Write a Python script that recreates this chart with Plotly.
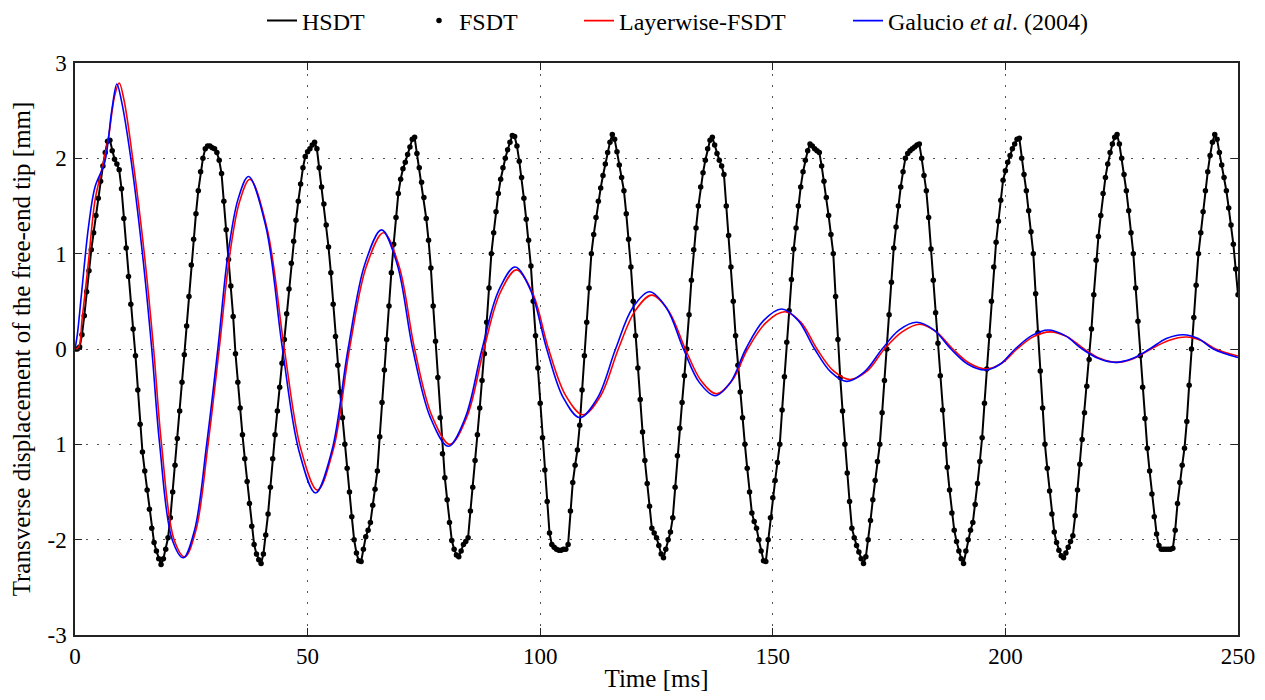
import plotly.graph_objects as go

# ---------------- data ----------------
time_step_ms = 0.5
# HSDT / FSDT transverse displacement [mm], sampled every 0.5 ms from 0 to 250 ms
hsdt_disp = [
    0.00, 0.00, 0.02, 0.15, 0.35, 0.60, 0.82, 1.04, 1.22, 1.40,
    1.58, 1.76, 1.92, 2.06, 2.18, 2.19, 2.08, 1.99, 1.94, 1.88,
    1.68, 1.37, 1.06, 0.76, 0.47, 0.21, -0.07, -0.43, -0.79, -1.08,
    -1.28, -1.48, -1.68, -1.88, -2.03, -2.12, -2.20, -2.26, -2.20, -2.10,
    -1.98, -1.77, -1.50, -1.22, -0.94, -0.65, -0.35, -0.06, 0.24, 0.55,
    0.88, 1.15, 1.42, 1.66, 1.86, 2.00, 2.10, 2.13, 2.13, 2.11,
    2.10, 2.06, 1.98, 1.84, 1.55, 1.25, 0.94, 0.66, 0.34, -0.05,
    -0.35, -0.62, -0.90, -1.15, -1.39, -1.62, -1.86, -2.05, -2.15, -2.21,
    -2.25, -2.15, -1.95, -1.73, -1.45, -1.15, -0.90, -0.65, -0.40, -0.15,
    0.10, 0.37, 0.63, 0.90, 1.13, 1.35, 1.55, 1.73, 1.90, 2.02,
    2.07, 2.10, 2.14, 2.17, 2.10, 1.90, 1.70, 1.52, 1.30, 1.07,
    0.80, 0.47, 0.13, -0.17, -0.45, -0.72, -1.00, -1.25, -1.50, -1.76,
    -2.00, -2.14, -2.22, -2.23, -2.10, -1.97, -1.90, -1.82, -1.64, -1.47,
    -1.28, -0.92, -0.56, -0.22, 0.10, 0.45, 0.80, 1.10, 1.38, 1.63,
    1.78, 1.89, 1.96, 2.04, 2.12, 2.20, 2.22, 2.05, 1.90, 1.75,
    1.59, 1.37, 1.14, 0.85, 0.45, 0.08, -0.30, -0.72, -1.10, -1.35,
    -1.58, -1.82, -2.01, -2.10, -2.16, -2.18, -2.12, -2.05, -2.02, -1.98,
    -1.70, -1.45, -1.17, -0.90, -0.62, -0.33, -0.05, 0.28, 0.64, 1.00,
    1.22, 1.44, 1.63, 1.78, 1.90, 2.00, 2.09, 2.17, 2.24, 2.23,
    2.13, 1.97, 1.80, 1.58, 1.36, 1.14, 0.87, 0.50, 0.14, -0.20,
    -0.57, -0.93, -1.27, -1.60, -1.93, -2.05, -2.08, -2.10, -2.11, -2.11,
    -2.10, -2.10, -2.05, -1.70, -1.40, -1.22, -1.06, -0.80, -0.43, -0.07,
    0.28, 0.64, 1.00, 1.20, 1.38, 1.55, 1.69, 1.82, 1.94, 2.06,
    2.17, 2.25, 2.20, 2.07, 1.93, 1.80, 1.66, 1.42, 1.15, 0.86,
    0.50, 0.14, -0.20, -0.53, -0.87, -1.17, -1.41, -1.65, -1.88, -1.93,
    -1.98, -2.06, -2.15, -2.19, -2.10, -2.00, -1.92, -1.77, -1.45, -1.12,
    -0.83, -0.56, -0.28, 0.00, 0.36, 0.72, 1.04, 1.27, 1.50, 1.70,
    1.85, 1.98, 2.10, 2.19, 2.22, 2.14, 2.05, 1.98, 1.92, 1.83,
    1.50, 1.19, 0.86, 0.50, 0.14, -0.17, -0.45, -0.72, -1.00, -1.25,
    -1.50, -1.72, -1.81, -1.88, -2.00, -2.12, -2.22, -2.23, -2.00, -1.77,
    -1.56, -1.38, -1.19, -1.00, -0.64, -0.29, 0.07, 0.40, 0.73, 1.05,
    1.27, 1.50, 1.70, 1.86, 1.98, 2.08, 2.15, 2.13, 2.10, 2.08,
    2.06, 1.92, 1.76, 1.59, 1.40, 1.20, 1.00, 0.55, 0.10, -0.30,
    -0.65, -1.00, -1.30, -1.60, -1.88, -1.98, -2.06, -2.13, -2.20, -2.25,
    -2.18, -2.00, -1.80, -1.58, -1.38, -1.18, -1.00, -0.67, -0.33, 0.00,
    0.36, 0.70, 1.06, 1.28, 1.50, 1.70, 1.86, 2.00, 2.05, 2.08,
    2.10, 2.12, 2.14, 2.15, 2.00, 1.82, 1.66, 1.38, 1.05, 0.72,
    0.38, 0.06, -0.28, -0.64, -1.00, -1.24, -1.48, -1.72, -1.90, -2.02,
    -2.12, -2.20, -2.25, -2.12, -2.00, -1.90, -1.82, -1.63, -1.41, -1.18,
    -0.93, -0.57, -0.21, 0.14, 0.50, 0.86, 1.12, 1.34, 1.56, 1.77,
    1.87, 1.96, 2.03, 2.10, 2.15, 2.20, 2.21, 2.00, 1.83, 1.66,
    1.45, 1.23, 1.00, 0.58, 0.17, -0.23, -0.62, -1.00, -1.25, -1.49,
    -1.73, -1.92, -2.03, -2.11, -2.17, -2.19, -2.14, -2.08, -2.02, -1.96,
    -1.75, -1.48, -1.21, -0.95, -0.67, -0.39, -0.11, 0.21, 0.57, 0.93,
    1.18, 1.40, 1.63, 1.80, 1.94, 2.06, 2.15, 2.22, 2.25, 2.15,
    2.00, 1.83, 1.66, 1.45, 1.22, 1.00, 0.64, 0.29, -0.07, -0.40,
    -0.73, -1.04, -1.28, -1.52, -1.76, -1.94, -2.06, -2.10, -2.10, -2.10,
    -2.10, -2.10, -2.09, -1.90, -1.62, -1.40, -1.22, -1.04, -0.76, -0.38,
    0.00, 0.33, 0.67, 1.00, 1.22, 1.44, 1.66, 1.86, 2.03, 2.17,
    2.25, 2.20, 2.06, 1.93, 1.80, 1.66, 1.48, 1.30, 1.10, 0.84,
    0.57,
]
hsdt_time = [i * time_step_ms for i in range(len(hsdt_disp))]
# FSDT coincides with HSDT in the reference
fsdt_time = hsdt_time
fsdt_disp = hsdt_disp

# Layerwise-FSDT (red) readings
lw_time = [0, 0.8, 1.5, 2.9, 4.3, 5.7, 7.2, 8.5, 9.5, 10.5, 12.4, 14.9, 16.9, 18.6,
           21.3, 23.6, 26.0, 28.6, 31.0, 33.3, 35.4, 37.6,
           41.3, 45.0, 48.55, 52.1, 55.55, 59.0, 62.65, 66.3, 69.65, 73.0, 76.8, 80.6,
           84.25, 87.9, 91.4, 94.9, 98.35, 101.8, 105.5, 109.2, 113.0, 116.8, 120.4,
           124.0, 127.6, 131.2, 134.55, 137.9, 141.25, 144.6, 148.6, 152.6, 156.05,
           159.5, 163.05, 166.6, 170.3, 174.0, 177.8, 181.6, 185.15, 188.7, 192.3,
           195.9, 199.2, 202.5, 206.05, 209.6, 213.25, 216.9, 220.4, 223.9, 227.6,
           231.3, 235.1, 238.9, 242.05, 245.2, 250.0]
lw_disp = [0, 0.02, 0.30, 0.92, 1.56, 1.87, 2.22, 2.65, 2.79, 2.62, 2.00, 1.00, 0.00, -1.00,
           -2.00, -2.18, -1.90, -1.00, 0.00, 1.00, 1.55, 1.78,
           1.26, 0.00, -1.05, -1.48, -1.05, 0.00, 0.87, 1.22, 0.87, 0.00, -0.71, -1.00,
           -0.71, 0.00, 0.59, 0.83, 0.59, 0.00, -0.49, -0.69, -0.49, 0.00, 0.40,
           0.565, 0.40, 0.00, -0.33, -0.47, -0.33, 0.00, 0.28, 0.39, 0.28,
           0.00, -0.23, -0.32, -0.23, 0.00, 0.18, 0.26, 0.18, 0.00, -0.15,
           -0.21, -0.15, 0.00, 0.13, 0.18, 0.13, 0.00, -0.10, -0.14, -0.10,
           0.00, 0.09, 0.126, 0.09, 0.00, -0.074]

# Galucio et al. (2004) (blue) readings
gal_time = [0, 0.5, 1.4, 2.9, 4.3, 6.4, 7.9, 9.0, 10.0, 12.0, 14.5, 16.5, 18.2,
            20.9, 23.3, 25.7, 28.3, 30.7, 32.9, 35.1, 37.3,
            41.0, 44.6, 48.15, 51.7, 55.2, 58.7, 62.3, 65.9, 69.25, 72.6, 76.4, 80.25,
            83.9, 87.5, 91.05, 94.6, 98.0, 101.4, 104.95, 108.5, 112.35, 116.2, 119.85,
            123.5, 127.15, 130.8, 134.2, 137.6, 140.9, 144.2, 148.05, 151.9, 155.45,
            159.0, 162.45, 165.9, 169.7, 173.5, 177.2, 180.9, 184.6, 188.3, 191.95,
            195.6, 198.85, 202.1, 205.65, 209.2, 212.85, 216.5, 220.05, 223.6, 227.3,
            231.0, 234.6, 238.2, 241.45, 244.7, 250.0]
gal_disp = [0, 0.15, 0.58, 1.28, 1.70, 1.96, 2.50, 2.78, 2.60, 2.00, 1.00, 0.00, -1.00,
            -2.00, -2.19, -1.90, -1.00, 0.00, 1.00, 1.58, 1.81,
            1.29, 0.00, -1.07, -1.51, -1.07, 0.00, 0.89, 1.25, 0.89, 0.00, -0.72, -1.02,
            -0.72, 0.00, 0.61, 0.86, 0.61, 0.00, -0.51, -0.72, -0.51, 0.00, 0.43,
            0.60, 0.43, 0.00, -0.35, -0.49, -0.35, 0.00, 0.30, 0.42, 0.30,
            0.00, -0.24, -0.34, -0.24, 0.00, 0.20, 0.28, 0.20, 0.00, -0.16,
            -0.22, -0.16, 0.00, 0.14, 0.20, 0.14, 0.00, -0.10, -0.14, -0.10,
            0.00, 0.11, 0.15, 0.11, 0.00, -0.09]

x_ticks = [0, 50, 100, 150, 200, 250]
y_ticks = [-3, -2, -1, 0, 1, 2, 3]
y_tick_text = ["-3", "-2", "1", "0", "1", "2", "3"]

FONT = "Liberation Serif"
TICK_FS = 23
TITLE_FS = 25
LEGEND_FS = 24

fig = go.Figure()
fig.add_trace(go.Scatter(x=hsdt_time, y=hsdt_disp, mode="lines", name="HSDT",
                         legend="legend",
                         line=dict(color="black", width=2)))
fig.add_trace(go.Scatter(x=fsdt_time, y=fsdt_disp, mode="markers", name="FSDT",
                         legend="legend2",
                         marker=dict(color="black", size=5.5)))
fig.add_trace(go.Scatter(x=lw_time, y=lw_disp, mode="lines", name="Layerwise-FSDT",
                         legend="legend3",
                         line=dict(color="#ff0000", width=1.6, shape="spline", smoothing=1.0)))
fig.add_trace(go.Scatter(x=gal_time, y=gal_disp, mode="lines",
                         name="Galucio <i>et al</i>. (2004)", legend="legend4",
                         line=dict(color="#0000ff", width=1.6, shape="spline", smoothing=1.0)))

axis_common = dict(
    showline=True, linecolor="#222", linewidth=1.5, mirror="ticks",
    ticks="inside", ticklen=7, tickwidth=1.2, tickcolor="#222",
    showgrid=True, gridcolor="#555", gridwidth=1, griddash="2px,9px",
    zeroline=False, tickfont=dict(family=FONT, size=TICK_FS, color="black"),
)

fig.update_xaxes(range=[0, 250], tickvals=x_ticks, ticklabelstandoff=0,
                 title=dict(text="Time [ms]",
                            font=dict(family=FONT, size=TITLE_FS, color="black"),
                            standoff=14),
                 **axis_common)
fig.update_yaxes(range=[-3, 3], tickvals=y_ticks, ticktext=y_tick_text, ticklabelstandoff=2,
                 title=dict(text="Transverse displacement of the free-end tip [mm]",
                            font=dict(family=FONT, size=TITLE_FS, color="black"), standoff=13),
                 **axis_common)

# The page shows the figure offset by the default 8px body margin
W, H = 1249, 684
plot_left, plot_w, plot_top, plot_h = 67, 1163, 55, 572


def legend_at(text_left_page):
    x_fig = text_left_page - 8 - 42
    return dict(orientation="h", x=(x_fig - plot_left) / plot_w, xanchor="left",
                y=1 + (plot_top - 13) / plot_h, yanchor="middle",
                font=dict(family=FONT, size=LEGEND_FS, color="black"),
                bgcolor="rgba(0,0,0,0)", borderwidth=0)


fig.update_layout(
    width=W, height=H,
    margin=dict(l=plot_left, r=W - plot_left - plot_w, t=plot_top, b=H - plot_top - plot_h,
                autoexpand=False),
    plot_bgcolor="white", paper_bgcolor="white",
    font=dict(family=FONT, size=TICK_FS, color="black"),
    legend=legend_at(304),
    legend2=legend_at(461),
    legend3=legend_at(621),
    legend4=legend_at(890),
    showlegend=True,
)

fig.write_html("out.html")
